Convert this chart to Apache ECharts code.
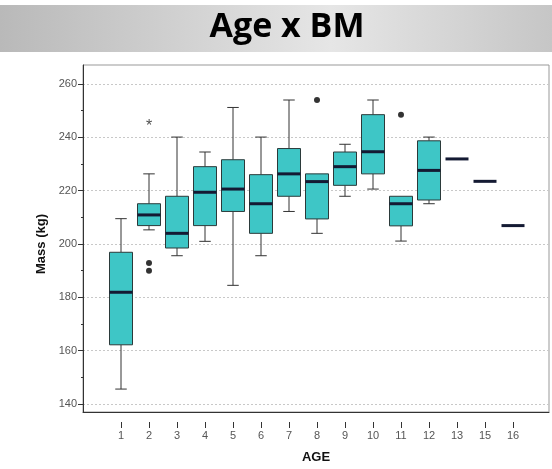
<!DOCTYPE html>
<html>
<head>
<meta charset="utf-8">
<script src="https://cdn.jsdelivr.net/npm/echarts@6/dist/echarts.min.js"></script>
<style>
  html, body { margin: 0; padding: 0; background: #fff; }
  #box1 { width: 552px; height: 469px; }
</style>
</head>
<body>
<div id="box1"></div>
<script>
// age groups on the x axis
var ages = ['1', '2', '3', '4', '5', '6', '7', '8', '9', '10', '11', '12', '13', '15', '16']
// [low, q1, median, q3, high] per age
var lows    = [145.6, 205.3, 195.6, 201.0, 184.5, 195.6, 212.2, 204.0, 217.9, 220.6, 201.1, 215.1, 231.9, 223.5, 206.9]
var q1s     = [162.2, 206.9, 198.5, 206.9, 212.2, 204.0, 217.9, 209.4, 222.0, 226.3, 206.8, 216.5, 231.9, 223.5, 206.9]
var medians = [181.9, 210.9, 204.0, 219.4, 220.6, 215.1, 226.3, 223.4, 229.0, 234.6, 215.1, 227.6, 231.9, 223.5, 206.9]
var q3s     = [196.9, 215.1, 217.9, 229.0, 231.6, 226.0, 235.8, 226.3, 234.5, 248.5, 217.9, 238.7, 231.9, 223.5, 206.9]
var highs   = [209.5, 226.3, 240.1, 234.5, 251.2, 240.1, 254.0, 226.3, 237.4, 254.0, 217.9, 240.1, 231.9, 223.5, 206.9]
// outliers [age, mass]
var dotOutliers = [['2', 192.9], ['2', 190.0], ['8', 254.0], ['11', 248.5]]
var starOutliers = [['2', 245.7]]
var yTicks = { min: 140, max: 260, step: 20 }

var boxData = ages.map(function (a, i) {
    return [i, lows[i], q1s[i], medians[i], q3s[i], highs[i]]
})

function renderBox(params, api) {
    var x = api.value(0)
    var low = api.coord([x, api.value(1)])
    var q1 = api.coord([x, api.value(2)])
    var med = api.coord([x, api.value(3)])
    var q3 = api.coord([x, api.value(4)])
    var high = api.coord([x, api.value(5)])
    var w = 23
    var cx = med[0]
    var lineStyle = { stroke: '#333', lineWidth: 1 }
    var kids = []
    if (high[1] < q3[1] - 0.5) {
        kids.push({ type: 'line', shape: { x1: cx, y1: high[1], x2: cx, y2: q3[1] }, style: lineStyle })
        kids.push({ type: 'line', shape: { x1: cx - w / 4, y1: high[1], x2: cx + w / 4, y2: high[1] }, style: lineStyle })
    }
    if (low[1] > q1[1] + 0.5) {
        kids.push({ type: 'line', shape: { x1: cx, y1: q1[1], x2: cx, y2: low[1] }, style: lineStyle })
        kids.push({ type: 'line', shape: { x1: cx - w / 4, y1: low[1], x2: cx + w / 4, y2: low[1] }, style: lineStyle })
    }
    if (q1[1] - q3[1] > 0.5) {
        kids.push({
            type: 'rect',
            shape: { x: cx - w / 2, y: q3[1], width: w, height: q1[1] - q3[1] },
            style: { fill: '#3ec6c6', stroke: '#2b3a3a', lineWidth: 1 }
        })
    }
    kids.push({ type: 'line', shape: { x1: cx - w / 2, y1: med[1], x2: cx + w / 2, y2: med[1] }, style: { stroke: '#141a33', lineWidth: 3 } })
    return { type: 'group', children: kids }
}

var first = echarts.init(document.getElementById('box1'))
var option = {
    backgroundColor: '#fff',
    animation: false,
    graphic: [
        {
            type: 'rect', z: -10,
            shape: { x: 0, y: 5, width: 552, height: 47 },
            style: {
                fill: new echarts.graphic.LinearGradient(0, 0, 1, 0, [
                    { offset: 0, color: '#b9b9b9' },
                    { offset: 0.3, color: '#cfcfcf' },
                    { offset: 0.6, color: '#e6e6e6' },
                    { offset: 1, color: '#c6c6c6' }
                ])
            }
        },
        {
            type: 'text', z: 10,
            style: {
                text: 'Age x BM', x: 287, y: 27, align: 'center', verticalAlign: 'middle',
                fill: '#000', font: 'bold 34px "Open Sans", sans-serif'
            }
        }
    ],
    grid: [
        { left: 83, top: 84, width: 466, height: 320 },
        { left: 83, top: 65, width: 466, height: 357, show: true, borderColor: '#999', borderWidth: 1 },
        { left: 107, top: 84, width: 420, height: 320 }
    ],
    xAxis: [
        { gridIndex: 0, type: 'value', show: false },
        {
            gridIndex: 1, type: 'value', min: 0, max: 1,
            axisLine: { show: true, lineStyle: { color: '#333' } },
            axisTick: { show: false }, axisLabel: { show: false }, splitLine: { show: false },
            name: 'AGE', nameLocation: 'middle', nameGap: 39,
            nameTextStyle: { fontFamily: 'Liberation Sans', fontWeight: 'bold', fontSize: 13, color: '#111' }
        },
        {
            gridIndex: 2, type: 'category', data: ages, boundaryGap: true, offset: 18,
            axisLine: { show: false },
            axisTick: { show: true, alignWithLabel: true, length: 6, lineStyle: { color: '#333' } },
            axisLabel: { color: '#555', fontSize: 11, fontFamily: 'Liberation Sans', margin: 8 },
            splitLine: { show: false }
        }
    ],
    yAxis: [
        {
            gridIndex: 0, type: 'value', min: yTicks.min, max: yTicks.max, interval: yTicks.step,
            axisLine: { show: false },
            axisTick: { show: true, length: 5, lineStyle: { color: '#333' } },
            minorTick: { show: true, splitNumber: 2, length: 2, lineStyle: { color: '#333' } },
            axisLabel: { color: '#555', fontSize: 11, fontFamily: 'Liberation Sans', margin: 6 },
            splitLine: { show: true, lineStyle: { color: '#c8c8c8', type: [2, 2] } },
            name: 'Mass (kg)', nameLocation: 'middle', nameGap: 28, nameRotate: 90,
            nameTextStyle: { fontFamily: 'Liberation Sans', fontWeight: 'bold', fontSize: 13, color: '#111' }
        },
        {
            gridIndex: 1, type: 'value', min: 0, max: 1,
            axisLine: { show: true, lineStyle: { color: '#333' } },
            axisTick: { show: false }, axisLabel: { show: false }, splitLine: { show: false }
        },
        { gridIndex: 2, type: 'value', min: yTicks.min, max: yTicks.max, show: false, splitLine: { show: false } }
    ],
    series: [
        {
            type: 'custom', xAxisIndex: 2, yAxisIndex: 2,
            renderItem: renderBox,
            encode: { x: 0, y: [1, 2, 3, 4, 5] },
            data: boxData
        },
        {
            type: 'scatter', xAxisIndex: 2, yAxisIndex: 2,
            symbol: 'circle', symbolSize: 6,
            itemStyle: { color: '#000' },
            data: dotOutliers
        },
        {
            type: 'scatter', xAxisIndex: 2, yAxisIndex: 2,
            symbolSize: 1, itemStyle: { color: 'rgba(0,0,0,0)' },
            label: { show: true, position: 'inside', formatter: '*', fontSize: 16, fontFamily: 'Liberation Sans', color: '#222', offset: [0, 4] },
            data: starOutliers
        }
    ]
}
first.setOption(option)
</script>
</body>
</html>
